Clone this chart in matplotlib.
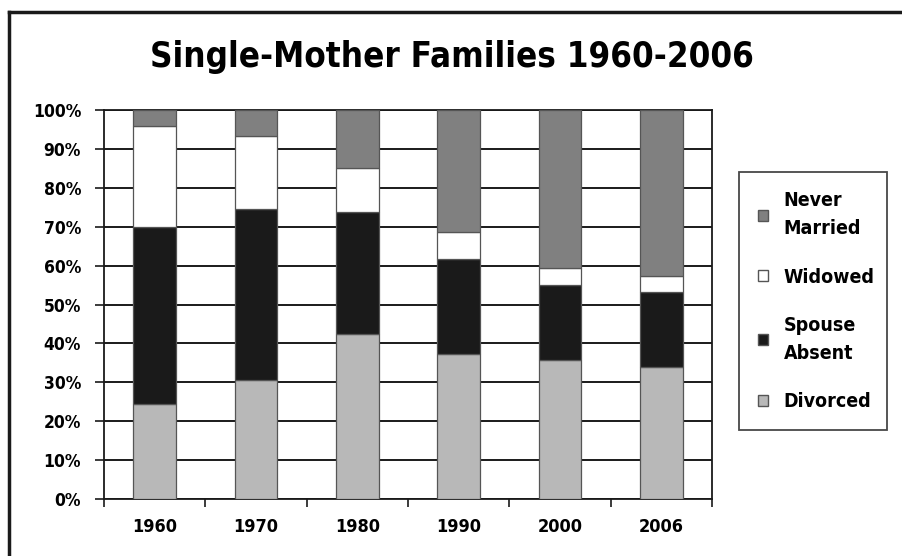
import matplotlib.pyplot as plt
from matplotlib.patches import Patch
from matplotlib.lines import Line2D
from matplotlib.ticker import FuncFormatter, FixedLocator

years = ['1960', '1970', '1980', '1990', '2000', '2006']
divorced = [24.3, 30.7, 42.3, 37.2, 35.7, 33.9]
spouse_absent = [45.6, 43.8, 31.4, 24.5, 19.4, 19.3]
widowed = [25.9, 18.7, 11.4, 6.9, 4.3, 4.1]
never_married = [4.2, 6.8, 14.9, 31.4, 40.6, 42.7]

plt.rcParams['font.family'] = ['DejaVu Sans']
plt.rcParams['font.stretch'] = 'condensed'
plt.rcParams['font.weight'] = 'bold'

fig = plt.figure(figsize=(9.03, 5.56), dpi=100)
ax = fig.add_axes([104 / 903, 57 / 556, 608 / 903, 389 / 556])

series = [
    ('Divorced', divorced, '#b8b8b8'),
    ('Spouse\nAbsent', spouse_absent, '#1a1a1a'),
    ('Widowed', widowed, '#ffffff'),
    ('Never\nMarried', never_married, '#808080'),
]

# stacked bars
x = range(len(years))
bottom = [0] * len(years)
for name, vals, col in series:
    ax.bar(x, vals, 0.42, bottom=bottom, color=col, edgecolor='#555555',
           linewidth=0.9, zorder=3)
    bottom = [b + v for b, v in zip(bottom, vals)]

ax.set_xlim(-0.5, len(years) - 0.5)
ax.set_ylim(0, 100)
ax.set_yticks(range(0, 101, 10))
ax.yaxis.set_major_formatter(FuncFormatter(lambda v, p: '%d%%' % v))
ax.yaxis.grid(True, color='#1a1a1a', linewidth=1.4)
ax.set_axisbelow(True)

# labels at centres, tick marks between categories
ax.set_xticks(list(x))
ax.set_xticklabels(years)
ax.xaxis.set_minor_locator(FixedLocator([i - 0.5 for i in range(len(years) + 1)]))
ax.tick_params(axis='x', which='major', length=0, pad=14, labelsize=13)
ax.tick_params(axis='x', which='minor', length=5.5, width=1.2, color='#1a1a1a')
ax.tick_params(axis='y', length=6.5, width=1.2, color='#1a1a1a', pad=10, labelsize=12.5)
for s in ax.spines.values():
    s.set_color('#1a1a1a')
    s.set_linewidth(1.3)

fig.text(0.5, 1 - 57 / 556, 'Single-Mother Families 1960-2006', ha='center', va='center',
         fontsize=25, fontweight='bold')

handles = [Patch(facecolor=col, edgecolor='#555555', label=name) for name, vals, col in series[::-1]]
leg = fig.legend(handles=handles, loc='upper left', mode='expand',
                 bbox_to_anchor=(739 / 903, 1 - 172 / 556, 148 / 903, 0),
                 frameon=True, fancybox=False, edgecolor='#1a1a1a',
                 prop={'size': 14, 'weight': 'bold', 'stretch': 'condensed'},
                 handlelength=0.5, handleheight=0.5, handletextpad=0.8,
                 labelspacing=1.5, borderpad=1.0, borderaxespad=0)
leg.get_frame().set_linewidth(1.3)
for t in leg.get_texts():
    t.set_linespacing(1.6)

# page border (left and top)
fig.add_artist(Line2D([9 / 903, 9 / 903], [0, 1 - 12 / 556], color='#1a1a1a', linewidth=2.5))
fig.add_artist(Line2D([9 / 903, 1], [1 - 12 / 556, 1 - 12 / 556], color='#1a1a1a', linewidth=2.5))

fig.savefig('out.png', dpi=100)
